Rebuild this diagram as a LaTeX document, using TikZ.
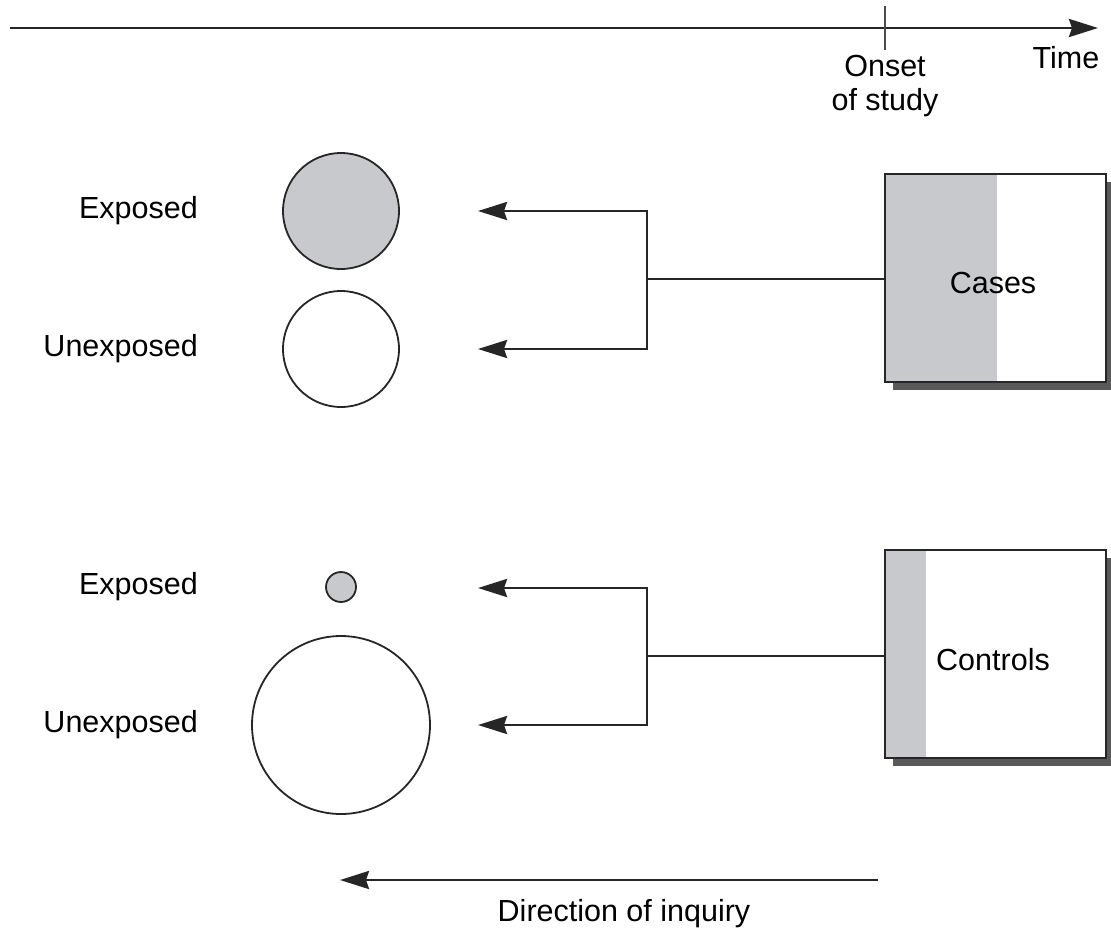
\documentclass[tikz,border=0pt]{standalone}
\usepackage{fontspec}
\setmainfont{Liberation Sans}
\usetikzlibrary{arrows.meta}
\definecolor{lightg}{RGB}{200,201,204}
\definecolor{shadowg}{RGB}{90,90,90}
\tikzset{
  lbl/.style={inner sep=0pt, font=\fontsize{30.5}{34}\selectfont},
  conn/.style={line width=2.8pt, draw=black!85},
  arr/.style={conn, -{Stealth[length=29pt,width=18pt,inset=3pt]}},
  grp/.style={circle, draw=black!85, line width=1.8pt, inner sep=0pt},
  boxframe/.style={draw=black!85, line width=2.2pt, minimum width=221pt, minimum height=208pt, inner sep=0pt},
}
\begin{document}
\begin{tikzpicture}[x=1pt,y=-1pt]
\useasboundingbox (0,0) rectangle (1111,930);
% time axis
\coordinate (t0) at (10,28);
\coordinate (t1) at (1098,28);
\draw[arr] (t0) -- (t1);
\coordinate (tk0) at (885,6);
\coordinate (tk1) at (885,50);
\draw[line width=1.5pt, draw=black!70] (tk0) -- (tk1);
\node[lbl, align=center] (onset) at (885,86) {Onset\\of study};
\node[lbl] (time) at (1066,58) {Time};

% Cases box
\fill[shadowg] (893,182) rectangle (1116,390);
\fill[white] (885,174) rectangle (1106,382);
\fill[lightg] (885,174) rectangle (997,382);
\node[boxframe] (cases) at (995.5,278) {};
\node[lbl] at (993,283) {Cases};

% Controls box
\fill[shadowg] (893,558) rectangle (1116,766);
\fill[white] (885,550) rectangle (1106,758);
\fill[lightg] (885,550) rectangle (926,758);
\node[boxframe] (controls) at (995.5,654) {};
\node[lbl] at (993,660) {Controls};

% circles
\node[grp, fill=lightg, minimum size=116pt] (ce) at (341,211) {};
\node[grp, fill=white, minimum size=116pt] (cu) at (341,349) {};
\node[grp, fill=lightg, minimum size=30pt] (ke) at (341,587) {};
\node[grp, fill=white, minimum size=178pt] (ku) at (341,725) {};

% labels
\node[lbl, anchor=east] (l1) at (198,211) {Exposed};
\node[lbl, anchor=east] (l2) at (198,349) {Unexposed};
\node[lbl, anchor=east] (l3) at (198,587) {Exposed};
\node[lbl, anchor=east] (l4) at (198,725) {Unexposed};

% case connectors
\coordinate (cj) at (647,279);
\coordinate (ca1) at (478,211);
\coordinate (ca2) at (478,349);
\draw[conn] (cases.west |- cj) -- (cj);
\draw[arr] (cj) |- (ca1);
\draw[arr] (cj) |- (ca2);

% control connectors
\coordinate (kj) at (647,656);
\coordinate (ka1) at (478,588);
\coordinate (ka2) at (478,725);
\draw[conn] (controls.west |- kj) -- (kj);
\draw[arr] (kj) |- (ka1);
\draw[arr] (kj) |- (ka2);

% direction of inquiry
\coordinate (d0) at (878,880);
\coordinate (d1) at (340,880);
\draw[arr] (d0) -- (d1);
\node[lbl] (dir) at (624,914) {Direction of inquiry};
\end{tikzpicture}
\end{document}
